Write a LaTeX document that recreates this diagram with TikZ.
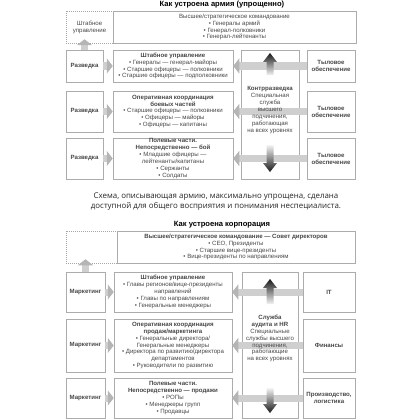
\documentclass[tikz,border=0pt]{standalone}
\usepackage{fontspec}
\setmainfont{Liberation Sans}
\newfontfamily\capfont{Open Sans}
\usetikzlibrary{arrows.meta,calc}

\begin{document}
\begin{tikzpicture}[x=1pt,y=-1pt,
 every node/.style={font=\fontsize{6.1}{6.9}\selectfont, text=black!72},
 blk/.style={draw=gray!65, line width=0.5pt, fill=white, align=center, inner sep=0pt},
 hq/.style={draw=gray!70, line width=0.5pt, dash pattern=on 1pt off 1pt, align=center, inner sep=0pt},
 flow/.style={line width=7pt, draw=gray!38, -{Triangle[length=6pt,width=15pt,color=gray!58]}},
 ttl/.style={font=\fontsize{7.6}{9}\selectfont\bfseries, text=black}]
\useasboundingbox (0,0) rectangle (420,420);

% army
\node[ttl] (armyttl) at (222,5) {Как устроена армия (упрощенно)};
\node[hq, minimum width=47pt, minimum height=32pt] (ahq) at (89.5,27) {Штабное\\управление};
\node[blk, minimum width=243pt, minimum height=32pt] (atop) at (234.5,27)
 {Высшее/стратегическое командование\\• Генералы армий\\• Генерал-полковники\\• Генерал-лейтенанты};
\node[blk, minimum width=37pt, minimum height=32pt] (r1) at (84.5,66) {\textbf{Разведка}};
\node[blk, minimum width=37pt, minimum height=41pt] (r2) at (84.5,111.5) {\textbf{Разведка}};
\node[blk, minimum width=37pt, minimum height=41pt] (r3) at (84.5,158.5) {\textbf{Разведка}};
\node[blk, minimum width=120pt, minimum height=32pt] (a1) at (173,66)
 {\textbf{Штабное управление}\\• Генералы — генерал-майоры\\• Старшие офицеры — полковники\\• Старшие офицеры — подполковники};
\node[blk, minimum width=120pt, minimum height=41pt] (a2) at (173,111.5)
 {\textbf{Оперативная координация}\\\textbf{боевых частей}\\• Старшие офицеры — полковники\\• Офицеры — майоры\\• Офицеры — капитаны};
\node[blk, minimum width=120pt, minimum height=41pt] (a3) at (173,158.5)
 {\textbf{Полевые части.}\\\textbf{Непосредственно — бой}\\• Младшие офицеры —\\лейтенанты/капитаны\\• Сержанты\\• Солдаты};
\node[blk, minimum width=58pt, minimum height=129pt] (ci) at (270,114.5) {};
\node[blk, minimum width=48pt, minimum height=32pt] (t1) at (331,66) {\textbf{Тыловое}\\\textbf{обеспечение}};
\node[blk, minimum width=48pt, minimum height=41pt] (t2) at (331,111.5) {\textbf{Тыловое}\\\textbf{обеспечение}};
\node[blk, minimum width=48pt, minimum height=41pt] (t3) at (331,158.5) {\textbf{Тыловое}\\\textbf{обеспечение}};
\draw[flow] (r1.north) -- ([yshift=4pt]ahq.south -| r1.north);
\foreach \i in {1,2,3} {
 \draw[flow] (r\i.east) -- (a\i.west);
 \draw[flow] (t\i.west) -- (a\i.east);
}
\node[align=center] (citext) at (270,110)
 {\textbf{Контрразведка}\\Специальная\\служба\\высшего\\подчинения,\\работающая\\на всех уровнях};
\coordinate (ciup) at (270,53);
\coordinate (cidown) at (270,172);
\shade[top color=black!90, bottom color=gray!10, shift={(ciup)}]
 (0,0) -- (7,9) -- (3.5,9) -- (3.5,22) -- (-3.5,22) -- (-3.5,9) -- (-7,9) -- cycle;
\shade[top color=gray!10, bottom color=black!90, shift={(cidown)}]
 (0,0) -- (7,-9) -- (3.5,-9) -- (3.5,-27) -- (-3.5,-27) -- (-3.5,-9) -- (-7,-9) -- cycle;

% caption
\node[font=\capfont\fontsize{7.9}{10}\selectfont, text=black!85, align=center] (cap) at (216,202)
 {Схема, описывающая армию, максимально упрощена, сделана\\доступной для общего восприятия и понимания неспециалиста.};

% corporation
\node[ttl] (corpttl) at (222,225) {Как устроена корпорация};
\node[hq, minimum width=51pt, minimum height=32pt] (chq) at (91.5,247) {};
\node[blk, minimum width=238pt, minimum height=32pt] (ctop) at (236,247)
 {\textbf{Высшее/стратегическое командование — Совет директоров}\\• CEO, Президенты\\• Старшие вице-президенты\\• Вице-президенты по направлениям};
\node[blk, minimum width=39pt, minimum height=40pt] (m1) at (85.5,292) {\textbf{Маркетинг}};
\node[blk, minimum width=39pt, minimum height=53pt] (m2) at (85.5,345.5) {\textbf{Маркетинг}};
\node[blk, minimum width=39pt, minimum height=40pt] (m3) at (85.5,398) {\textbf{Маркетинг}};
\node[blk, minimum width=118pt, minimum height=40pt] (c1) at (173,292)
 {\textbf{Штабное управление}\\• Главы регионов/вице-президенты\\направлений\\• Главы по направлениям\\• Генеральные менеджеры};
\node[blk, minimum width=118pt, minimum height=53pt] (c2) at (173,345.5)
 {\textbf{Оперативная координация}\\\textbf{продаж/маркетинга}\\• Генеральные директора/\\Генеральные менеджеры\\• Директора по развитию/директора\\департаментов\\• Руководители по развитию};
\node[blk, minimum width=118pt, minimum height=40pt] (c3) at (173,398)
 {\textbf{Полевые части.}\\\textbf{Непосредственно — продажи}\\• РОПы\\• Менеджеры групп\\• Продавцы};
\node[blk, minimum width=56pt, minimum height=146pt] (aud) at (270,345) {};
\node[blk, minimum width=52pt, minimum height=40pt] (f1) at (329,292) {\textbf{IT}};
\node[blk, minimum width=52pt, minimum height=53pt] (f2) at (329,345.5) {\textbf{Финансы}};
\node[blk, minimum width=52pt, minimum height=40pt] (f3) at (329,398) {\textbf{Производство,}\\\textbf{логистика}};
\draw[flow] (m1.north) -- ([yshift=4pt]chq.south -| m1.north);
\foreach \i in {1,2,3} {
 \draw[flow] (m\i.east) -- (c\i.west);
 \draw[flow] (f\i.west) -- (c\i.east);
}
\node[align=center] (audtext) at (270,338.5)
 {\textbf{Служба}\\\textbf{аудита и HR}\\Специальные\\службы высшего\\подчинения,\\работающие\\на всех уровнях};
\coordinate (audup) at (270,279);
\coordinate (auddown) at (270,413);
\shade[top color=black!90, bottom color=gray!10, shift={(audup)}]
 (0,0) -- (7,9) -- (3.5,9) -- (3.5,25) -- (-3.5,25) -- (-3.5,9) -- (-7,9) -- cycle;
\shade[top color=gray!10, bottom color=black!90, shift={(auddown)}]
 (0,0) -- (7,-9) -- (3.5,-9) -- (3.5,-25) -- (-3.5,-25) -- (-3.5,-9) -- (-7,-9) -- cycle;
\end{tikzpicture}
\end{document}
